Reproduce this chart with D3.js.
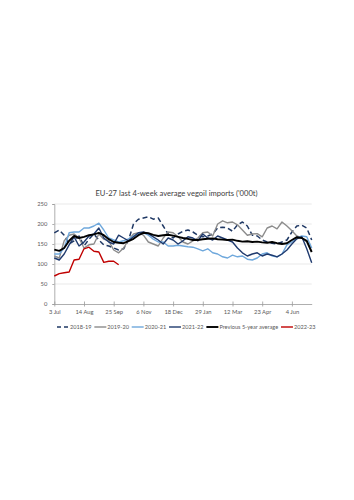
<!DOCTYPE html>
<html><head><meta charset="utf-8">
<script src="https://cdn.jsdelivr.net/npm/d3@7"></script>
<style>html,body{margin:0;padding:0;background:#fff;}svg{display:block;}</style>
</head><body>
<svg id="c" width="354" height="500"></svg>
<script>
const tickLabels = ["3 Jul","14 Aug","25 Sep","6 Nov","18 Dec","29 Jan","12 Mar","23 Apr","4 Jun"];
const yTicks = [0,50,100,150,200,250];
const s2018 = [178,185,172,150,158,170,145,162,175,160,148,145,140,135,138,160,200,212,215,218,212,215,195,175,165,175,182,185,180,172,168,170,175,190,192,190,182,198,205,195,172,170,160,155,152,150,155,160,180,195,197,190,160];
const s2019 = [120,115,158,172,175,165,140,148,150,175,162,158,135,128,140,160,175,178,172,155,150,145,165,180,178,168,155,150,158,165,178,180,170,200,208,203,205,198,185,172,175,176,168,190,195,188,205,195,183,170,165,155,130];
const s2020 = [125,125,140,178,180,180,190,190,195,202,185,165,160,155,158,163,170,175,178,172,162,155,155,145,145,147,145,143,142,138,133,138,128,125,118,115,122,118,120,112,110,115,125,128,120,118,125,148,155,165,170,168,140];
const s2021 = [115,110,125,148,168,145,155,170,175,190,165,155,150,172,165,158,168,178,180,176,168,160,150,165,160,150,158,168,165,158,175,165,160,170,165,160,155,140,128,120,125,128,120,125,122,118,125,135,150,163,168,138,103];
const avg5 = [136,133,140,158,170,165,168,172,174,178,172,162,155,153,152,157,163,172,178,177,173,170,172,173,171,168,165,163,160,160,162,163,164,162,161,160,161,158,156,157,155,156,154,153,155,152,150,152,160,167,165,158,130];
const s2022 = [70,76,78,80,110,112,138,142,132,130,104,107,107,98];

const series = [
  {name:"2018-19", data:s2018, color:"#1f3864", width:1.5, dash:"5,3"},
  {name:"2019-20", data:s2019, color:"#8c8c8c", width:1.4},
  {name:"2020-21", data:s2020, color:"#6fa8dc", width:1.4},
  {name:"2021-22", data:s2021, color:"#1f3a6e", width:1.4},
  {name:"Previous 5-year average", data:avg5, color:"#000000", width:1.9},
  {name:"2022-23", data:s2022, color:"#c00000", width:1.4}
];

const svg = d3.select("#c");
const font = "Lato, 'Open Sans', sans-serif";
const L = 54.3, R = 311.7, T = 204, B = 304;
const x = d3.scaleLinear().domain([0,52]).range([L,R]);
const y = d3.scaleLinear().domain([0,250]).range([B,T]);

// gridlines
svg.append("g").selectAll("line").data(yTicks.filter(d=>d>0)).join("line")
  .attr("x1",L).attr("x2",R).attr("y1",d=>y(d)).attr("y2",d=>y(d))
  .attr("stroke","#e3e3e3").attr("stroke-width",0.8);

// y axis
const ya = svg.append("g").attr("transform",`translate(${L},0)`)
  .call(d3.axisLeft(y).tickValues(yTicks).tickSize(2).tickPadding(5));
ya.select(".domain").attr("stroke","#9a9a9a").attr("stroke-width",0.8);
ya.selectAll(".tick line").attr("stroke","#9a9a9a").attr("stroke-width",0.8);
ya.selectAll("text").attr("font-family",font).attr("font-size",5.8).attr("fill","#595959");

// x axis
const xa = svg.append("g").attr("transform",`translate(0,${B})`)
  .call(d3.axisBottom(x).tickValues(d3.range(0,49,6)).tickFormat((d,i)=>tickLabels[i]).tickSize(2.5).tickPadding(3.5).tickSizeOuter(0));
xa.select(".domain").attr("stroke","#9a9a9a").attr("stroke-width",0.8);
xa.selectAll(".tick line").attr("y1",-2.5).attr("stroke","#9a9a9a").attr("stroke-width",0.8);
xa.selectAll("text").attr("font-family",font).attr("font-size",5.8).attr("fill","#595959");

// lines
const line = d3.line().x((d,i)=>x(i)).y(d=>y(d));
svg.append("g").selectAll("path").data(series).join("path")
  .attr("d",d=>line(d.data)).attr("fill","none")
  .attr("stroke",d=>d.color).attr("stroke-width",d=>d.width)
  .attr("stroke-dasharray",d=>d.dash||null).attr("stroke-linejoin","round");

// title
svg.append("text").attr("x",176.5).attr("y",196).attr("text-anchor","middle")
  .attr("font-family",font).attr("font-size",7.6).attr("fill","#404040")
  .text("EU-27 last 4-week average vegoil imports ('000t)");

// legend
const lg = svg.append("g").attr("transform","translate(57,327)");
let cx = 0;
series.forEach((s,i)=>{
  const g = lg.append("g").attr("transform",`translate(${cx},0)`);
  g.append("line").attr("x1",0).attr("x2",12).attr("y1",0).attr("y2",0)
    .attr("stroke",s.color).attr("stroke-width",s.width).attr("stroke-dasharray",s.dash?"4,3":null);
  const t = g.append("text").attr("x",13).attr("y",2).attr("font-family",font)
    .attr("font-size",5.6).attr("fill","#595959").text(s.name);
  cx += 13 + t.node().getComputedTextLength() + 2.8;
});
</script>
</body></html>
